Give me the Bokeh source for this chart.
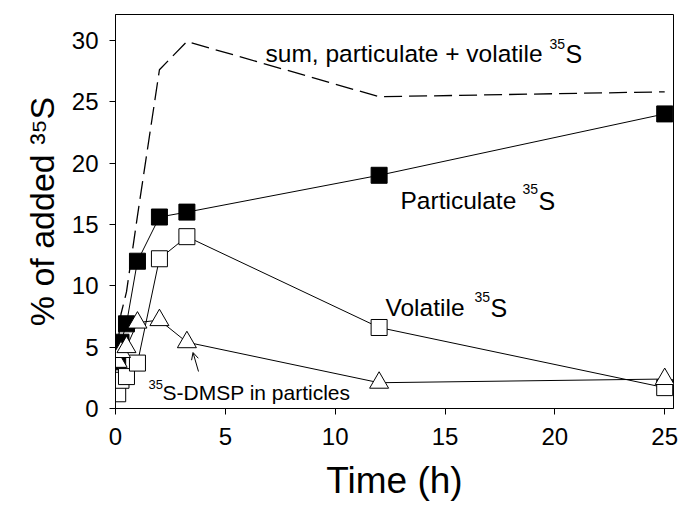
import math
from bokeh.plotting import figure
from bokeh.models import Label, Arrow, OpenHead
from bokeh.embed import file_html
from bokeh.resources import INLINE

# ---- data ----
time_h = [0.1, 0.25, 0.5, 1.0, 2.0, 3.25, 12.0, 25.0]
particulate = [3.8, 5.4, 6.9, 12.0, 15.6, 16.0, 19.0, 24.0]
volatile = [1.2, 2.3, 2.6, 3.7, 12.2, 14.0, 6.6, 1.7]
dmsp_particles = [3.8, 4.6, 5.0, 7.0, 7.2, 5.4, 2.1, 2.4]
sum_part_vol = [5.0, 7.7, 9.5, 15.7, 27.6, 29.9, 25.4, 25.8]
x_ticks = [0, 5, 10, 15, 20, 25]
y_ticks = [0, 5, 10, 15, 20, 25, 30]

FONT = "Liberation Sans"
X0, X1 = 0, 25.4
Y0, Y1 = 0, 32.1
FL, FR, FT, FB = 115, 673, 14, 408  # frame in pixels


def dx(px):
    return X0 + (px - FL) * (X1 - X0) / (FR - FL)


def dy(py):
    return Y0 + (FB - py) * (Y1 - Y0) / (FB - FT)


p = figure(width=684, height=523, x_range=(X0, X1), y_range=(Y0, Y1),
           output_backend="svg", toolbar_location=None,
           min_border_left=FL, min_border_right=684 - FR,
           min_border_top=FT, min_border_bottom=523 - FB)
p.xgrid.visible = False
p.ygrid.visible = False
p.outline_line_color = "black"
p.outline_line_width = 1
p.background_fill_color = "white"
p.border_fill_color = "white"

for ax, ticks in ((p.xaxis, x_ticks), (p.yaxis, y_ticks)):
    ax.ticker = ticks
    ax.major_tick_out = 6
    ax.major_tick_in = 0
    ax.minor_tick_line_color = None
    ax.axis_line_color = "black"
    ax.major_tick_line_color = "black"
    ax.major_label_text_font = FONT
    ax.major_label_text_font_size = "24px"
    ax.major_label_text_color = "black"
    ax.axis_label_text_font = FONT
    ax.axis_label_text_font_style = "normal"
    ax.axis_label_text_color = "black"

p.xaxis.major_label_standoff = 13
p.yaxis.major_label_standoff = 11
p.xaxis.axis_label = "Time (h)"
p.xaxis.axis_label_text_font_size = "37px"
p.xaxis.axis_label_standoff = 12
p.yaxis.axis_label = "% of added \u00b3\u2075S"
p.yaxis.axis_label_text_font_size = "34px"
p.yaxis.axis_label_standoff = 8

# dashed sum line
p.line(time_h, sum_part_vol, line_color="black", line_width=1.3, line_dash="18 7")

# series lines
p.line(time_h, particulate, line_color="black", line_width=1)
p.line(time_h, volatile, line_color="black", line_width=1)
p.line(time_h, dmsp_particles, line_color="black", line_width=1)

p.scatter(time_h, particulate, marker="square", size=16, fill_color="black", line_color="black")
p.scatter(time_h, volatile, marker="square", size=16, fill_color="white", line_color="black", line_width=1)
p.scatter(time_h, dmsp_particles, marker="triangle", size=19, fill_color="white", line_color="black", line_width=1)


def lab(text, px, py, size):
    p.add_layout(Label(x=dx(px), y=dy(py), text=text, text_font=FONT,
                       text_font_size=f"{size}px", text_color="black",
                       text_align="left", text_baseline="alphabetic"))


# annotations
lab("sum, particulate + volatile", 265, 53, 24.5)
lab("35", 549, 43, 14)
lab("S", 565, 53, 25)

lab("Particulate", 400, 200, 24.5)
lab("35", 522, 188, 14)
lab("S", 538, 200, 25)

lab("Volatile", 385, 307, 24.5)
lab("35", 474, 296, 14)
lab("S", 490, 307, 25)

lab("35", 148, 384, 13)
lab("S-DMSP in particles", 162, 392, 21)

p.add_layout(Arrow(end=OpenHead(size=7, line_color="black", line_width=1),
                   x_start=dx(198), y_start=dy(371), x_end=dx(192.5), y_end=dy(352),
                   line_color="black", line_width=1))

open("out.html", "w").write(file_html(p, INLINE))
